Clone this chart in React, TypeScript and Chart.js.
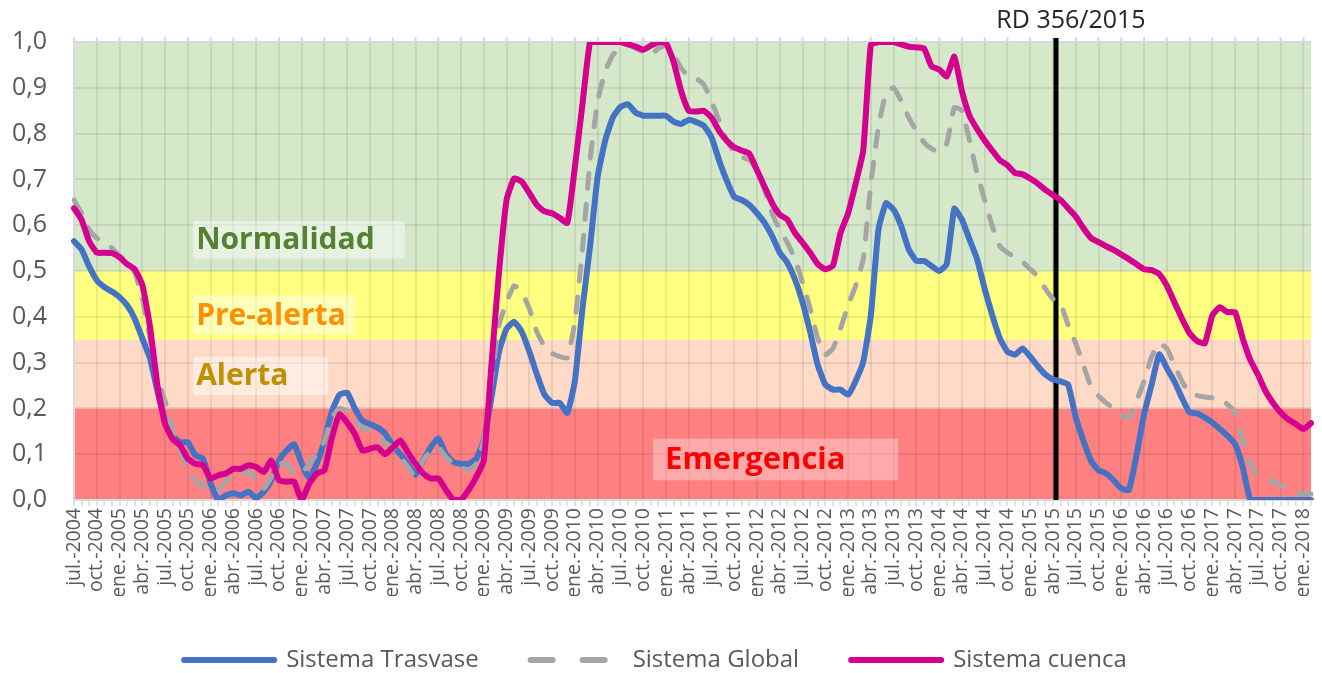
import React, { useEffect, useRef } from 'react';
import { Chart, registerables } from 'chart.js';

Chart.register(...registerables);

// ---- Categories (monthly, jul.-2004 .. feb.-2018) ----
const MONTH_NAMES = ['ene.', 'feb.', 'mar.', 'abr.', 'may.', 'jun.', 'jul.', 'ago.', 'sept.', 'oct.', 'nov.', 'dic.'];
const START_YEAR = 2004;
const START_MONTH_INDEX = 6; // jul.
const MONTH_COUNT = 164;
const categories: string[] = [];
for (let i = 0; i < MONTH_COUNT; i++) {
  const k = START_MONTH_INDEX + i;
  categories.push(`${MONTH_NAMES[k % 12]}-${START_YEAR + Math.floor(k / 12)}`);
}

// ---- Series values ----
const sistemaTrasvase = [
  0.565, 0.547, 0.51, 0.48, 0.465, 0.455, 0.443, 0.425, 0.396, 0.353,
  0.31, 0.237, 0.173, 0.14, 0.126, 0.126, 0.097, 0.09, 0.036, 0.0,
  0.01, 0.015, 0.01, 0.018, 0.004, 0.018, 0.043, 0.086, 0.108, 0.122,
  0.08, 0.047, 0.08, 0.13, 0.195, 0.23, 0.234, 0.2, 0.173, 0.166,
  0.158, 0.145, 0.119, 0.1, 0.079, 0.055, 0.086, 0.115, 0.135, 0.1,
  0.083, 0.079, 0.079, 0.09, 0.13, 0.223, 0.324, 0.374, 0.389, 0.367,
  0.324, 0.274, 0.23, 0.212, 0.212, 0.19, 0.26, 0.418, 0.554, 0.706,
  0.785, 0.835, 0.858, 0.864, 0.846, 0.839, 0.839, 0.839, 0.839, 0.826,
  0.821, 0.83, 0.825, 0.817, 0.792, 0.742, 0.698, 0.662, 0.655, 0.644,
  0.626, 0.605, 0.576, 0.54, 0.518, 0.482, 0.432, 0.367, 0.295, 0.252,
  0.241, 0.241, 0.23, 0.26, 0.302, 0.403, 0.59, 0.648, 0.634, 0.598,
  0.547, 0.522, 0.522, 0.511, 0.5, 0.515, 0.636, 0.612, 0.569, 0.526,
  0.461, 0.403, 0.353, 0.324, 0.317, 0.331, 0.313, 0.292, 0.274, 0.263,
  0.259, 0.252, 0.18, 0.13, 0.086, 0.065, 0.058, 0.043, 0.025, 0.022,
  0.097, 0.187, 0.252, 0.318, 0.288, 0.259, 0.223, 0.191, 0.189, 0.18,
  0.169, 0.155, 0.14, 0.122, 0.072, 0.0, 0.0, 0.0, 0.0, 0.0,
  0.0, 0.0, 0.0, 0.0,
];

const sistemaGlobal = [
  0.655, 0.626, 0.59, 0.572, 0.56, 0.55, 0.533, 0.518, 0.497, 0.44,
  0.353, 0.266, 0.216, 0.151, 0.108, 0.065, 0.043, 0.029, 0.022, 0.022,
  0.04, 0.058, 0.058, 0.065, 0.043, 0.025, 0.05, 0.079, 0.079, 0.058,
  0.058, 0.079, 0.1, 0.13, 0.18, 0.2, 0.194, 0.173, 0.158, 0.151,
  0.14, 0.125, 0.115, 0.094, 0.072, 0.05, 0.086, 0.108, 0.115, 0.094,
  0.079, 0.072, 0.065, 0.079, 0.13, 0.26, 0.382, 0.432, 0.468, 0.454,
  0.418, 0.367, 0.335, 0.32, 0.313, 0.31, 0.389, 0.547, 0.742, 0.871,
  0.936, 0.972, 0.986, 0.994, 0.986, 0.979, 0.972, 0.986, 0.994, 0.972,
  0.943, 0.925, 0.92, 0.907, 0.871, 0.828, 0.785, 0.76, 0.749, 0.742,
  0.72, 0.677, 0.626, 0.59, 0.562, 0.526, 0.475, 0.418, 0.353, 0.317,
  0.331, 0.374, 0.425, 0.468, 0.526, 0.691, 0.814, 0.889, 0.9, 0.871,
  0.835, 0.806, 0.781, 0.767, 0.76, 0.778, 0.857, 0.85, 0.785, 0.713,
  0.655, 0.598, 0.554, 0.54, 0.53, 0.52, 0.504, 0.488, 0.461, 0.439,
  0.428, 0.382, 0.342, 0.295, 0.248, 0.227, 0.212, 0.2, 0.184, 0.18,
  0.216, 0.259, 0.313, 0.342, 0.331, 0.295, 0.259, 0.234, 0.228, 0.225,
  0.223, 0.22, 0.209, 0.191, 0.13, 0.079, 0.054, 0.047, 0.04, 0.032,
  0.025, 0.018, 0.013, 0.013,
];

const sistemaCuenca = [
  0.637, 0.612, 0.565, 0.54, 0.54, 0.539, 0.53, 0.515, 0.504, 0.47,
  0.38, 0.25, 0.166, 0.133, 0.119, 0.09, 0.079, 0.076, 0.047, 0.054,
  0.058, 0.068, 0.068, 0.076, 0.072, 0.061, 0.086, 0.043, 0.04, 0.04,
  0.0, 0.036, 0.058, 0.065, 0.137, 0.187, 0.169, 0.144, 0.108, 0.112,
  0.115, 0.1, 0.115, 0.13, 0.104, 0.079, 0.058, 0.047, 0.047, 0.022,
  0.0, 0.0, 0.022, 0.05, 0.086, 0.295, 0.497, 0.655, 0.702, 0.695,
  0.67, 0.644, 0.63, 0.626, 0.616, 0.605, 0.727, 0.864, 1.0, 1.0,
  1.0, 1.0, 1.0, 0.995, 0.99, 0.983, 0.992, 1.0, 0.998, 0.957,
  0.893, 0.85, 0.848, 0.85, 0.835, 0.806, 0.785, 0.77, 0.763, 0.756,
  0.72, 0.684, 0.648, 0.623, 0.612, 0.583, 0.562, 0.54, 0.515, 0.504,
  0.511, 0.583, 0.626, 0.691, 0.763, 0.994, 1.0, 1.0, 1.0, 0.995,
  0.99, 0.988, 0.986, 0.947, 0.94, 0.925, 0.968, 0.893, 0.839, 0.81,
  0.785, 0.763, 0.742, 0.731, 0.714, 0.711, 0.702, 0.691, 0.677, 0.666,
  0.655, 0.637, 0.619, 0.594, 0.572, 0.563, 0.554, 0.546, 0.536, 0.526,
  0.515, 0.504, 0.502, 0.493, 0.468, 0.432, 0.396, 0.364, 0.347, 0.342,
  0.403, 0.421, 0.41, 0.41, 0.353, 0.306, 0.274, 0.238, 0.212, 0.191,
  0.176, 0.166, 0.155, 0.168,
];

// ---- Y tick values ----
const yTickValues = [0, 0.1, 0.2, 0.3, 0.4, 0.5, 0.6, 0.7, 0.8, 0.9, 1.0];

// ---- Threshold bands ----
const bandLimits = [0, 0.2, 0.35, 0.5, 1.0];
const bandNames = ['Emergencia', 'Alerta', 'Pre-alerta', 'Normalidad'];

// ---- Reference event (RD 356/2015, spring 2015) ----
const eventLabel = 'RD 356/2015';
const eventCategory = 'abr.-2015';
const eventMonthOffset = 0.4;

const FONT = "'Open Sans', 'Noto Sans', sans-serif";
const TICK_COLOR = '#595959';

const BAND_COLORS = ['#FF8080', '#FFDAC6', '#FFFF80', '#D5E8CA'];
const LABEL_STYLE: Record<string, any> = {
  Normalidad: { color: '#548235', box: [15.7, 43.6, 0.609, 0.527], padX: 3, size: 30 },
  'Pre-alerta': { color: '#FF9000', box: [15.7, 37.0, 0.447, 0.361], padX: 3, size: 30 },
  Alerta: { color: '#BF9000', box: [15.7, 33.5, 0.313, 0.229], padX: 3, size: 30 },
  Emergencia: { color: '#FF0000', box: [76.3, 108.6, 0.134, 0.043], padX: 12, size: 31 },
};

const overlayPlugin = {
  id: 'overlay',
  beforeDraw(chart: any) {
    const { ctx, chartArea, scales } = chart;
    const y = scales.y;
    ctx.save();
    for (let i = 0; i < bandNames.length; i++) {
      const top = y.getPixelForValue(bandLimits[i + 1]);
      const bot = y.getPixelForValue(bandLimits[i]);
      ctx.fillStyle = BAND_COLORS[i];
      ctx.fillRect(chartArea.left, top, chartArea.right - chartArea.left, bot - top);
    }
    ctx.restore();
  },
  beforeDatasetsDraw(chart: any) {
    const { ctx, chartArea, scales } = chart;
    const x = scales.x;
    const y = scales.y;
    ctx.save();
    // top frame line with small ticks
    ctx.strokeStyle = '#D9D9D9';
    ctx.lineWidth = 2;
    ctx.beginPath();
    ctx.moveTo(chartArea.left, chartArea.top);
    ctx.lineTo(chartArea.right, chartArea.top);
    for (let i = 0; i < categories.length; i += 3) {
      const px = x.getPixelForValue(i);
      ctx.moveTo(px, chartArea.top);
      ctx.lineTo(px, chartArea.top - 5);
    }
    ctx.stroke();

    // zone labels
    for (const name of bandNames) {
      const st = LABEL_STYLE[name];
      const [i0, i1, v0, v1] = st.box;
      const bx0 = x.getPixelForValue(i0);
      const bx1 = x.getPixelForValue(i1);
      const by0 = y.getPixelForValue(v0);
      const by1 = y.getPixelForValue(v1);
      ctx.fillStyle = name === 'Emergencia' ? 'rgba(255,255,255,0.33)' : 'rgba(255,255,255,0.45)';
      ctx.fillRect(bx0, by0, bx1 - bx0, by1 - by0);
      ctx.fillStyle = st.color;
      ctx.font = `bold ${st.size}px ${FONT}`;
      ctx.textAlign = 'left';
      ctx.textBaseline = 'middle';
      ctx.fillText(name, bx0 + st.padX, (by0 + by1) / 2 + 1);
    }

    // event line
    const ex = x.getPixelForValue(categories.indexOf(eventCategory) + eventMonthOffset);
    ctx.strokeStyle = '#000000';
    ctx.lineWidth = 5;
    ctx.beginPath();
    ctx.moveTo(ex, chartArea.top - 4);
    ctx.lineTo(ex, chartArea.bottom);
    ctx.stroke();
    ctx.fillStyle = '#262626';
    ctx.font = `25px ${FONT}`;
    ctx.textAlign = 'center';
    ctx.textBaseline = 'middle';
    ctx.fillText(eventLabel, ex + 15, 21);
    ctx.restore();
  },
};

export default function App() {
  const canvasRef = useRef<HTMLCanvasElement | null>(null);

  useEffect(() => {
    document.body.style.margin = '0';
    const canvas = canvasRef.current;
    if (!canvas) return;

    const chart = new Chart(canvas, {
      type: 'line',
      data: {
        labels: categories,
        datasets: [
          {
            label: 'Sistema Trasvase',
            data: sistemaTrasvase,
            borderColor: '#4472C4',
            backgroundColor: '#4472C4',
            borderWidth: 6,
            pointRadius: 0,
            tension: 0.15,
            borderJoinStyle: 'round',
            borderCapStyle: 'round',
            order: 2,
          },
          {
            label: 'Sistema Global',
            data: sistemaGlobal,
            borderColor: '#A5A5A5',
            backgroundColor: '#A5A5A5',
            borderWidth: 5,
            borderDash: [15, 16],
            borderCapStyle: 'round',
            pointRadius: 0,
            tension: 0.15,
            order: 1,
          },
          {
            label: 'Sistema cuenca',
            data: sistemaCuenca,
            borderColor: '#D5008F',
            backgroundColor: '#D5008F',
            borderWidth: 6,
            pointRadius: 0,
            tension: 0.15,
            borderJoinStyle: 'round',
            borderCapStyle: 'round',
            order: 0,
          },
        ],
      },
      options: {
        responsive: false,
        animation: false,
        events: [],
        layout: { padding: { top: 34, right: 11, bottom: -9, left: 0 } },
        scales: {
          x: {
            type: 'category',
            offset: false,
            afterFit: (scale: any) => {
              scale.height = 96;
              scale.paddingLeft = 0;
              scale.paddingRight = 0;
            },
            border: { display: true, color: '#D9D9D9', width: 2 },
            grid: {
              display: true,
              drawOnChartArea: true,
              drawTicks: true,
              tickLength: 6,
              lineWidth: 2,
              tickWidth: 1,
              color: (ctx: any) => (ctx.index % 3 === 0 ? 'rgba(0,0,0,0.075)' : 'rgba(0,0,0,0)'),
              tickColor: '#C8C8C8',
            },
            ticks: {
              autoSkip: false,
              minRotation: 90,
              maxRotation: 90,
              padding: 2,
              color: TICK_COLOR,
              font: { family: FONT, size: 19.5 },
              callback: function (this: any, value: any, index: number) {
                return index % 3 === 0 ? this.getLabelForValue(value) : '';
              },
            },
          },
          y: {
            min: 0,
            max: 1,
            afterFit: (scale: any) => {
              scale.width = 74;
            },
            afterBuildTicks: (scale: any) => {
              scale.ticks = yTickValues.map((v) => ({ value: v }));
            },
            border: { display: true, color: '#D9D9D9', width: 2 },
            grid: {
              drawTicks: false,
              lineWidth: 2,
              color: 'rgba(0,0,0,0.075)',
            },
            ticks: {
              padding: 27,
              color: TICK_COLOR,
              font: { family: FONT, size: 25 },
              callback: (v: any) => Number(v).toFixed(1).replace('.', ','),
            },
          },
        },
        plugins: {
          tooltip: { enabled: false },
          title: { display: false },
          legend: {
            display: true,
            position: 'bottom',
            labels: {
              usePointStyle: true,
              pointStyle: 'line',
              pointStyleWidth: 90,
              padding: 52,
              color: TICK_COLOR,
              font: { family: FONT, size: 24 },
              sort: (a: any, b: any) => a.datasetIndex - b.datasetIndex,
              generateLabels: (ch: any) => {
                const items = (Chart as any).defaults.plugins.legend.labels.generateLabels(ch);
                return items.map((it: any) => {
                  const ds = ch.data.datasets[it.datasetIndex];
                  return {
                    ...it,
                    pointStyle: 'line',
                    strokeStyle: ds.borderColor,
                    fillStyle: ds.borderColor,
                    lineWidth: 6,
                    lineCap: 'round',
                    lineDash: ds.borderDash ? [22, 30] : [],
                  };
                });
              },
            },
          },
        },
      },
      plugins: [overlayPlugin],
    } as any);

    return () => {
      chart.destroy();
    };
  }, []);

  return (
    <div style={{ width: 1322, height: 673, position: 'relative', overflow: 'hidden', background: '#fff' }}>
      <canvas ref={canvasRef} width={1322} height={673} style={{ display: 'block' }} />
    </div>
  );
}
